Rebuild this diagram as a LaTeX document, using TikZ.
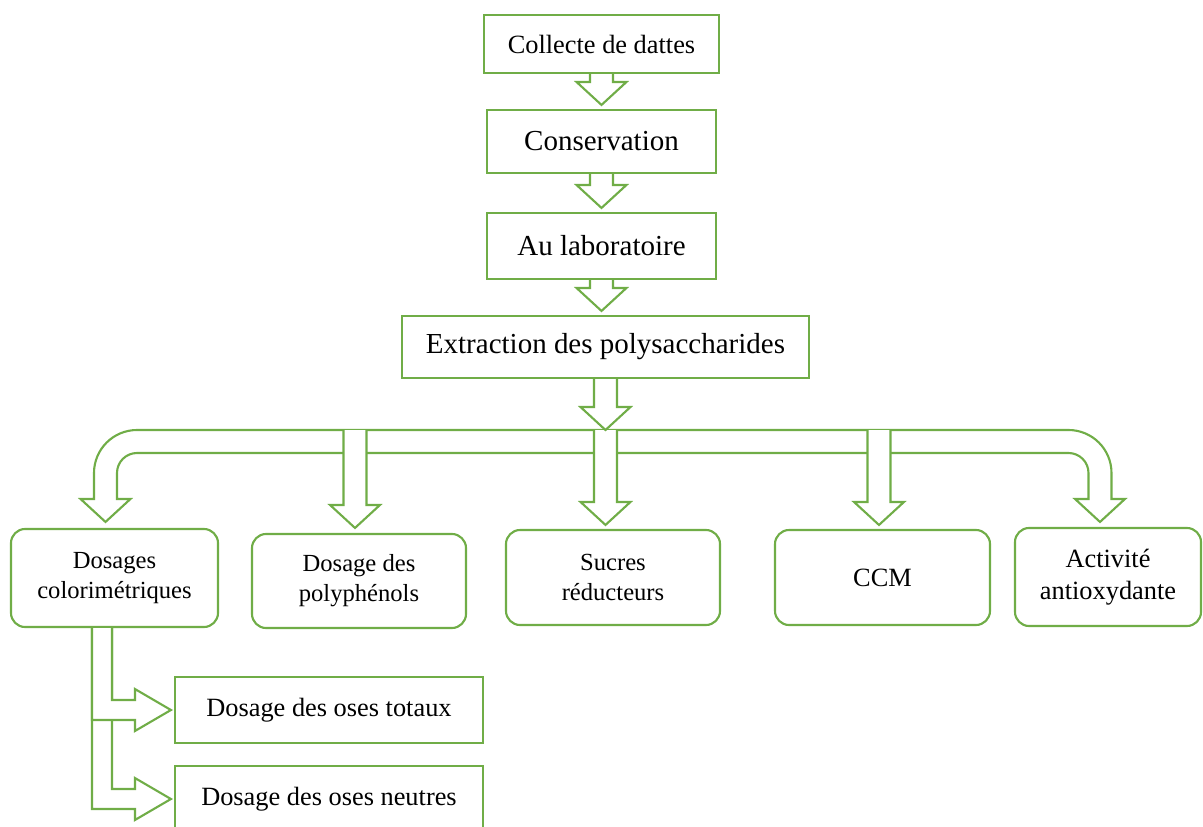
\documentclass[tikz,border=0pt]{standalone}
\usepackage{fontspec}
\setmainfont{Liberation Serif}
\usetikzlibrary{calc}
\definecolor{leaf}{RGB}{112,173,71}

\begin{document}
\begin{tikzpicture}[
  box/.style={rectangle, draw=leaf, line width=1.2pt, fill=white, align=center,
              inner sep=2pt, font=\fontsize{16.5}{20}\selectfont},
  rbox/.style={box, rounded corners=8pt, font=\fontsize{14}{17}\selectfont},
  flow/.style={draw=leaf, line width=1.2pt, fill=white,
    to path={let \p1=(\tikztostart), \p2=(\tikztotarget) in
      (\x1-0.23cm,\y1) -- (\x1-0.23cm,\y2+#1+0.46cm) -- (\x1-0.5cm,\y2+#1+0.46cm)
      -- (\x1,\y2+#1) -- (\x1+0.5cm,\y2+#1+0.46cm) -- (\x1+0.23cm,\y2+#1+0.46cm)
      -- (\x1+0.23cm,\y1)}},
  flow/.default=0.08cm,
  elbow/.style={draw=leaf, line width=1.2pt, fill=white,
    to path={let \p1=(\tikztostart), \p2=(\tikztotarget) in
      (\x1-0.2cm,\y1) -- (\x1-0.2cm,\y2-0.2cm) -- (\x2-0.78cm,\y2-0.2cm)
      -- (\x2-0.78cm,\y2-0.42cm) -- (\x2-0.06cm,\y2) -- (\x2-0.78cm,\y2+0.42cm)
      -- (\x2-0.78cm,\y2+0.2cm) -- (\x1+0.2cm,\y2+0.2cm) -- (\x1+0.2cm,\y1)}}
]
  \useasboundingbox (0,0) rectangle (24.06,-16.54);

  % Main chain
  \node[box, minimum width=4.7cm, minimum height=1.16cm,
        font=\fontsize{15}{18}\selectfont] (col) at (12.03,-0.88) {Collecte de dattes};
  \node[box, minimum width=4.58cm, minimum height=1.26cm] (cons) at (12.03,-2.83) {Conservation};
  \node[box, minimum width=4.58cm, minimum height=1.32cm] (lab) at (12.03,-4.92) {Au laboratoire};
  \node[box, minimum width=8.14cm, minimum height=1.24cm] (ext) at (12.11,-6.94) {Extraction des polysaccharides};
  \draw[flow] (col.south) to (cons.north);
  \draw[flow] (cons.south) to (lab.north);
  \draw[flow] (lab.south) to (ext.north);

  % Analyses
  \coordinate (split) at (12.11,-8.6);
  \node[rbox, minimum width=4.14cm, minimum height=1.96cm] (dc) at (2.29,-11.56) {Dosages\\colorimétriques};
  \node[rbox, minimum width=4.28cm, minimum height=1.88cm] (poly) at (7.18,-11.62) {Dosage des\\polyphénols};
  \node[rbox, minimum width=4.28cm, minimum height=1.9cm] (suc) at (12.26,-11.55) {Sucres\\réducteurs};
  \node[rbox, minimum width=4.3cm, minimum height=1.9cm,
        font=\fontsize{15}{18}\selectfont] (ccm) at (17.65,-11.55) {CCM};
  \node[rbox, minimum width=3.72cm, minimum height=1.96cm,
        font=\fontsize{15}{18}\selectfont] (act) at (22.16,-11.54) {Activité\\antioxydante};

  % Branching bar
  \draw[leaf, line width=1.2pt, fill=white]
    let \p1=([xshift=-0.18cm]dc.north), \p2=([xshift=-0.16cm]act.north), \p3=(split) in
    (\x1-0.23cm,\y1+0.58cm) -- (\x1-0.5cm,\y1+0.58cm) -- (\x1,\y1+0.12cm)
    -- (\x1+0.5cm,\y1+0.58cm) -- (\x1+0.23cm,\y1+0.58cm) -- (\x1+0.23cm,\y3-0.86cm)
    arc[start angle=180, end angle=90, radius=0.4cm] -- (\x2-0.63cm,\y3-0.46cm)
    arc[start angle=90, end angle=0, radius=0.4cm] -- (\x2-0.23cm,\y2+0.56cm)
    -- (\x2-0.5cm,\y2+0.56cm) -- (\x2,\y2+0.1cm) -- (\x2+0.5cm,\y2+0.56cm)
    -- (\x2+0.23cm,\y2+0.56cm) -- (\x2+0.23cm,\y3-0.86cm)
    arc[start angle=0, end angle=90, radius=0.86cm] -- (\x1+0.63cm,\y3)
    arc[start angle=90, end angle=180, radius=0.86cm] -- cycle;
  \draw[flow=0.1cm] ([xshift=-0.08cm]poly.north |- split) to (poly.north);
  \draw[flow=0.08cm] (split) to (split |- suc.north);
  \draw[flow=0.08cm] ([xshift=-0.07cm]ccm.north |- split) to (ccm.north);
  \draw[flow=0cm] (ext.south) to (split);

  % Colorimetric assays
  \node[box, minimum width=6.16cm, minimum height=1.32cm,
        font=\fontsize{15}{18}\selectfont] (tot) at (6.58,-14.2) {Dosage des oses totaux};
  \node[box, minimum width=6.16cm, minimum height=1.32cm,
        font=\fontsize{15}{18}\selectfont] (neu) at (6.58,-15.98) {Dosage des oses neutres};
  \draw[elbow] ([xshift=-0.25cm]dc.south) to (neu.west);
  \draw[elbow] ([xshift=-0.25cm]dc.south) to (tot.west);
\end{tikzpicture}
\end{document}
